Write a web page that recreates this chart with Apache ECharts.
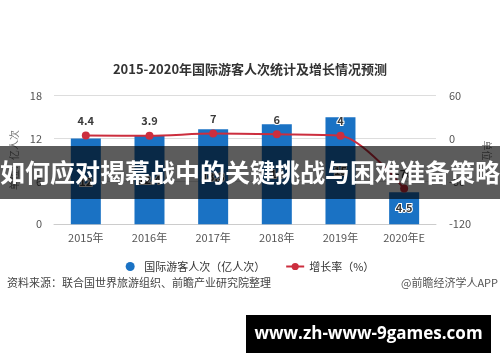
<!DOCTYPE html>
<html><head><meta charset="utf-8">
<script src="https://cdn.jsdelivr.net/npm/echarts@6/dist/echarts.min.js"></script>
<style>html,body{margin:0;padding:0;background:#fff}#c{width:500px;height:362px}</style>
</head><body><div id="c"></div>
<script>
const categories = ['2015年','2016年','2017年','2018年','2019年','2020年E'];
const visitors = [12, 12.4, 13.3, 14, 15, 4.5];
const growth = [4.4, 3.9, 7, 6, 4, -70];
const leftTicks = {min: 0, max: 18, interval: 6};
const rightTicks = {min: -120, max: 60, interval: 60};
const titleText = '2015-2020年国际游客人次统计及增长情况预测';
const seriesNames = ['国际游客人次（亿人次）', '增长率（%）'];
const sourceText = '资料来源：联合国世界旅游组织、前瞻产业研究院整理';
const creditText = '@前瞻经济学人APP';
const bannerText = '如何应对揭幕战中的关键挑战与困难准备策略';
const siteText = 'www.zh-www-9games.com';

const FONT = '"Noto Sans CJK SC", "Noto Sans", sans-serif';
const chart = echarts.init(document.getElementById('c'));
const labelStyle = {color: '#3a3a3a', textBorderColor: '#fff', textBorderWidth: 2, fontSize: 11, fontWeight: 'bold', fontFamily: FONT};
chart.setOption({
  animation: false,
  textStyle: {fontFamily: FONT},
  title: {text: titleText, left: 'center', top: 58, textStyle: {fontSize: 13, fontWeight: 'bold', color: '#333', fontFamily: FONT}},
  grid: {left: 54, right: 64, top: 95.7, bottom: 137.7},
  legend: {
    top: 256, left: 'center', itemGap: 20, itemWidth: 18, itemHeight: 9,
    textStyle: {fontSize: 11, color: '#333', fontFamily: FONT},
    data: [{name: seriesNames[0], icon: 'circle'}, {name: seriesNames[1]}]
  },
  xAxis: {
    type: 'category', data: categories,
    axisLine: {lineStyle: {color: '#ccc'}},
    axisTick: {alignWithLabel: true, length: 4, lineStyle: {color: '#ccc'}},
    axisLabel: {color: '#555', fontSize: 11, margin: 8, fontFamily: FONT}
  },
  yAxis: [
    {type: 'value', min: leftTicks.min, max: leftTicks.max, interval: leftTicks.interval,
     name: '单位：亿人次', nameLocation: 'middle', nameRotate: 90, nameGap: 34,
     nameTextStyle: {color: '#777', fontSize: 10, fontFamily: FONT},
     axisLine: {show: false}, axisTick: {show: false},
     axisLabel: {color: '#555', fontSize: 11, margin: 12},
     splitLine: {lineStyle: {color: '#ddd'}}},
    {type: 'value', min: rightTicks.min, max: rightTicks.max, interval: rightTicks.interval,
     name: '单位：%', nameLocation: 'middle', nameRotate: -90, nameGap: 44,
     nameTextStyle: {color: '#777', fontSize: 10, fontFamily: FONT},
     axisLine: {show: false}, axisTick: {show: false},
     axisLabel: {color: '#555', fontSize: 11, margin: 13},
     splitLine: {show: false}}
  ],
  series: [
    {name: seriesNames[0], type: 'bar', data: visitors, barWidth: 30, yAxisIndex: 0,
     itemStyle: {color: '#1a72c4'},
     label: Object.assign({show: true, position: 'inside'}, labelStyle)},
    {name: seriesNames[1], type: 'line', data: growth, yAxisIndex: 1, smooth: 0.3,
     symbol: 'circle', symbolSize: 8,
     itemStyle: {color: '#cc2e3e'}, lineStyle: {color: '#cc2e3e', width: 2},
     label: Object.assign({show: true, position: 'top', distance: 5}, labelStyle)}
  ],
  graphic: [
    {type: 'text', left: 7, top: 277, z: 50, style: {text: sourceText, fill: '#444', font: '11px ' + FONT}},
    {type: 'text', right: 2, top: 277, z: 50, style: {text: creditText, fill: '#555', font: '11px ' + FONT}},
    {type: 'rect', shape: {x: 0, y: 146, width: 500, height: 53}, z: 100, style: {fill: 'rgba(0,0,0,0.64)'}},
    {type: 'text', x: 250, y: 172.5, z: 101, style: {text: bannerText, fill: '#fff', font: 'bold 25px ' + FONT, textAlign: 'center', textVerticalAlign: 'middle'}},
    {type: 'rect', shape: {x: 246, y: 315, width: 245, height: 38}, z: 100, style: {fill: '#000'}},
    {type: 'text', x: 368.5, y: 334, z: 101, style: {text: siteText, fill: '#fff', font: 'bold 17px "Open Sans", "DejaVu Sans", sans-serif', textAlign: 'center', textVerticalAlign: 'middle'}}
  ]
});
</script></body></html>
